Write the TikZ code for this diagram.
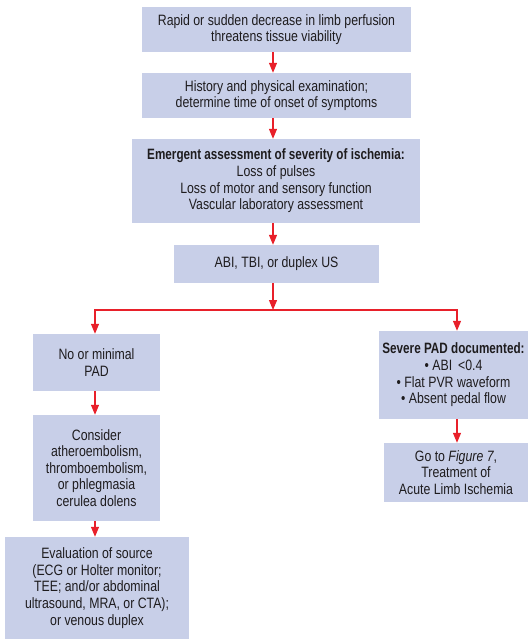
\documentclass[tikz,border=0pt]{standalone}
\usepackage{fontspec}
\setmainfont{Liberation Sans}[FakeStretch=0.82,BoldFeatures={FakeStretch=0.78}]
\usetikzlibrary{arrows.meta}
\definecolor{boxfill}{RGB}{200,207,232}
\definecolor{arrowred}{RGB}{232,32,42}
\definecolor{txt}{RGB}{30,28,30}
\begin{document}
\begin{tikzpicture}[x=1pt,y=-1pt,
 box/.style={fill=boxfill, draw=none, inner sep=0pt, align=center, text=txt, font=\fontsize{15}{16.6}\selectfont},
 arr/.style={draw=arrowred, line width=1.2pt, -{Triangle[width=8pt,length=10pt]}},
 ]
\useasboundingbox (0,0) rectangle (531,640);
\node[box, minimum width=269, minimum height=45] (b1) at (276.5,29.5)
  {Rapid or sudden decrease in limb perfusion\\threatens tissue viability};
\node[box, minimum width=269, minimum height=45] (b2) at (276.5,95.5)
  {History and physical examination;\\determine time of onset of symptoms};
\node[box, minimum width=288, minimum height=84] (b3) at (276,181)
  {\textbf{Emergent assessment of severity of ischemia:}\\Loss of pulses\\Loss of motor and sensory function\\Vascular laboratory assessment};
\node[box, minimum width=205, minimum height=38] (b4) at (276.5,264)
  {ABI, TBI, or duplex US};
\node[box, minimum width=127, minimum height=57] (l1) at (96.5,362.5)
  {No or minimal\\PAD};
\node[box, minimum width=127, minimum height=106] (l2) at (96.5,468)
  {Consider\\atheroembolism,\\thromboembolism,\\or phlegmasia\\cerulea dolens};
\node[box, minimum width=184, minimum height=102] (l3) at (97,588)
  {Evaluation of source\\(ECG or Holter monitor;\\TEE; and/or abdominal\\ultrasound, MRA, or CTA);\\or venous duplex};
\node[box, minimum width=149, minimum height=88] (r1) at (453.5,375)
  {\textbf{Severe PAD documented:}\\• ABI \,<0.4\\• Flat PVR waveform\\• Absent pedal flow};
\node[box, minimum width=144, minimum height=59] (r2) at (456,472.5)
  {Go to \textit{Figure 7},\\Treatment of\\Acute Limb Ischemia};
\coordinate (j) at (273,310);
\draw[arr] ([xshift=-3.5pt]b1.south) -- ([xshift=-3.5pt]b2.north);
\draw[arr] ([xshift=-3.5pt]b2.south) -- ([xshift=-3.5pt]b2.south |- b3.north);
\draw[arr] ([xshift=-3pt]b3.south) -- ([xshift=-3.5pt]b4.north);
\draw[arr] ([xshift=-3.5pt]b4.south) -- (j);
\draw[arr] (j) -| ([xshift=-1.5pt]l1.north);
\draw[arr] (j) -| ([xshift=3.5pt]r1.north);
\draw[arr] ([xshift=-1.5pt]l1.south) -- ([xshift=-1.5pt]l2.north);
\draw[arr] ([xshift=-1.5pt]l2.south) -- ([xshift=-1.5pt]l2.south |- l3.north);
\draw[arr] ([xshift=3.5pt]r1.south) -- ([xshift=3.5pt]r1.south |- r2.north);
\end{tikzpicture}
\end{document}
